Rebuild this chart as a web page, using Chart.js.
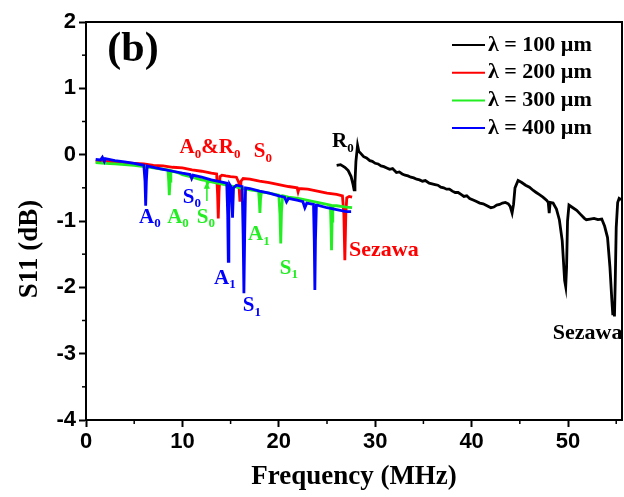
<!DOCTYPE html>
<html><head><meta charset="utf-8">
<script src="https://cdn.jsdelivr.net/npm/chart.js@4.4.0/dist/chart.umd.min.js"></script>
<style>html,body{margin:0;padding:0;background:#fff}#wrap{width:624px;height:497px;position:relative}</style>
</head><body><div id="wrap"><canvas id="c"></canvas></div>
<script>
// ---- data ----
const seriesLabels = ['λ = 100 µm', 'λ = 200 µm', 'λ = 300 µm', 'λ = 400 µm'];
const seriesColors = ['#000000', '#ff0000', '#22ee22', '#0000ff'];

const freq100 = [26.0,26.4,26.85,27.2,27.5,27.7,27.81,27.9,28.0,28.17,28.3,28.5,28.8,29.1,29.44,29.7,30.0,30.3,30.6,30.9,31.2,31.5,31.8,32.2,32.5,32.8,33.1,33.4,33.7,34.0,34.3,34.6,34.9,35.2,35.6,35.9,36.2,36.5,36.8,37.1,37.4,37.7,38.0,38.3,38.6,38.9,39.2,39.5,39.8,40.1,40.4,40.85,41.2,41.6,42.0,42.3,42.6,42.9,43.2,43.5,43.8,44.0,44.2,44.35,44.5,44.82,45.2,45.6,46.0,46.4,46.7,47.0,47.4,47.8,47.95,48.05,48.15,48.45,48.8,49.1,49.4,49.65,49.76,49.85,49.95,50.1,50.5,50.9,51.3,51.7,51.9,52.3,52.7,53.1,53.5,53.8,54.1,54.35,54.55,54.65,54.75,54.82,54.9,55.0,55.15,55.3,55.5];
const s11_100 = [-0.16,-0.15,-0.19,-0.24,-0.33,-0.45,-0.53,-0.42,-0.1,0.14,0.05,0.02,-0.03,-0.05,-0.09,-0.1,-0.13,-0.14,-0.17,-0.18,-0.2,-0.22,-0.21,-0.27,-0.26,-0.29,-0.31,-0.32,-0.34,-0.35,-0.37,-0.38,-0.4,-0.39,-0.43,-0.44,-0.45,-0.46,-0.49,-0.5,-0.52,-0.52,-0.55,-0.57,-0.57,-0.6,-0.63,-0.62,-0.66,-0.68,-0.7,-0.73,-0.74,-0.77,-0.8,-0.79,-0.76,-0.75,-0.73,-0.72,-0.74,-0.78,-0.88,-0.75,-0.5,-0.39,-0.42,-0.46,-0.49,-0.54,-0.57,-0.6,-0.64,-0.69,-0.72,-0.88,-0.72,-0.73,-0.82,-0.98,-1.3,-1.9,-1.99,-1.7,-1.0,-0.76,-0.8,-0.84,-0.9,-0.96,-0.98,-0.97,-0.96,-0.98,-0.97,-1.08,-1.25,-1.7,-2.2,-2.42,-2.3,-2.44,-1.9,-1.1,-0.72,-0.66,-0.68];

const freq200 = [1.0,2.0,3.0,4.0,5.0,6.0,7.0,8.0,9.0,10.0,11.0,12.0,13.0,13.55,13.65,13.72,13.8,13.9,14.1,14.5,15.0,15.6,15.85,15.97,16.08,16.3,17.0,18.0,19.0,20.0,21.0,21.9,22.0,22.1,23.0,24.0,25.0,26.0,26.6,26.75,26.85,26.95,27.05,27.3,27.6];
const s11_200 = [-0.1,-0.1,-0.11,-0.12,-0.13,-0.14,-0.16,-0.17,-0.19,-0.2,-0.23,-0.25,-0.28,-0.29,-0.6,-0.96,-0.55,-0.33,-0.31,-0.32,-0.33,-0.34,-0.42,-0.71,-0.4,-0.36,-0.37,-0.4,-0.42,-0.45,-0.48,-0.5,-0.56,-0.51,-0.52,-0.55,-0.58,-0.6,-0.62,-0.9,-1.59,-0.9,-0.65,-0.63,-0.64];

const freq300 = [1.0,2.0,3.0,4.0,5.0,6.0,7.0,8.0,8.5,8.58,8.64,8.72,8.8,9.5,10.0,11.0,12.0,12.5,12.6,12.7,13.0,14.0,15.0,16.0,17.0,17.9,17.98,18.04,18.1,18.2,19.0,20.0,20.12,20.2,20.28,20.4,21.0,22.0,23.0,24.0,25.0,25.35,25.42,25.47,25.53,25.6,26.0,27.0,27.6];
const s11_300 = [-0.12,-0.13,-0.14,-0.15,-0.16,-0.18,-0.2,-0.22,-0.23,-0.4,-0.61,-0.4,-0.24,-0.27,-0.3,-0.34,-0.38,-0.39,-0.44,-0.4,-0.41,-0.44,-0.47,-0.5,-0.53,-0.55,-0.7,-0.88,-0.68,-0.56,-0.58,-0.61,-0.9,-1.34,-0.85,-0.62,-0.64,-0.66,-0.69,-0.72,-0.75,-0.76,-1.1,-1.44,-1.0,-0.77,-0.77,-0.79,-0.8];

const freq400 = [1.0,1.5,1.7,1.9,2.0,3.0,4.0,5.0,6.0,6.12,6.19,6.26,6.35,7.0,8.0,9.0,10.0,10.8,10.96,11.1,12.0,13.0,14.0,14.6,14.7,14.76,14.82,14.9,15.1,15.2,15.3,15.6,16.2,16.3,16.38,16.46,16.55,17.0,18.0,19.0,20.0,20.6,20.8,21.0,22.0,22.5,22.7,22.9,23.6,23.68,23.74,23.8,23.9,24.0,25.0,26.0,27.0,27.5];
const s11_400 = [-0.07,-0.08,-0.04,-0.1,-0.06,-0.09,-0.11,-0.13,-0.16,-0.4,-0.77,-0.4,-0.17,-0.19,-0.22,-0.25,-0.28,-0.3,-0.36,-0.31,-0.34,-0.38,-0.41,-0.43,-0.9,-1.61,-0.9,-0.45,-0.5,-0.95,-0.5,-0.46,-0.48,-1.2,-2.09,-1.2,-0.5,-0.51,-0.55,-0.58,-0.62,-0.64,-0.71,-0.66,-0.69,-0.71,-0.8,-0.73,-0.75,-1.3,-2.04,-1.3,-0.76,-0.76,-0.8,-0.83,-0.86,-0.86];

const xTicksMajor = [0, 10, 20, 30, 40, 50];
const yTicksMajor = [-4, -3, -2, -1, 0, 1, 2];

// mode labels: '_' makes the next character a subscript
const labelTexts = ['R_0','Sezawa','Sezawa','A_0&R_0','S_0','A_0','A_0','S_0','S_0','A_1','A_1','S_1','S_1','(b)'];
const labelX = [26.64,52.04,30.9,12.86,18.35,6.63,9.54,12.44,10.99,17.93,14.41,17.21,21.05,4.87];
const labelY = [0.19,-2.69,-1.44,0.10,0.04,-0.95,-0.95,-0.95,-0.65,-1.21,-1.87,-2.28,-1.71,1.58];
const labelSeries = [0,0,1,1,1,3,2,2,3,2,3,3,2,0];
// arrow marking green S0
const arrowX = 12.54, arrowFromY = -0.70, arrowToY = -0.41;

// ---- build ----
function pts(xs, ys){ return xs.map((x,i)=>({x:x, y:ys[i]})); }
const allX = [freq100, freq200, freq300, freq400];
const allY = [s11_100, s11_200, s11_300, s11_400];
const datasets = seriesLabels.map((lab,i)=>({
  label: lab,
  data: pts(allX[i], allY[i]),
  borderColor: seriesColors[i],
  backgroundColor: seriesColors[i],
  borderWidth: 2.8,
  pointRadius: 0,
  tension: 0,
  fill: false,
  order: 3 - i
}));

const SERIF = '"Liberation Serif", "Times New Roman", serif';
const SANS = '"Liberation Sans", Arial, sans-serif';

function drawRich(ctx, text, cx, cy, size, color){
  const parts = [];
  for (let i=0;i<text.length;i++){
    if (text[i]==='_' && i+1<text.length){ parts.push({t:text[i+1], sub:true}); i++; }
    else parts.push({t:text[i], sub:false});
  }
  const subSize = Math.round(size*0.62);
  let w = 0;
  parts.forEach(p=>{ ctx.font = 'bold '+(p.sub?subSize:size)+'px '+SERIF; p.w = ctx.measureText(p.t).width; w += p.w; });
  let x = cx - w/2;
  ctx.fillStyle = color; ctx.textBaseline = 'middle'; ctx.textAlign = 'left';
  parts.forEach(p=>{
    ctx.font = 'bold '+(p.sub?subSize:size)+'px '+SERIF;
    ctx.fillText(p.t, x, p.sub ? cy + size*0.3 : cy);
    x += p.w;
  });
}

const decor = {
  id: 'decor',
  afterDatasetsDraw(chart){
    const ctx = chart.ctx, xs = chart.scales.x, ys = chart.scales.y, a = chart.chartArea;
    ctx.save();
    // frame
    ctx.strokeStyle = '#000'; ctx.lineWidth = 2;
    ctx.strokeRect(a.left, a.top, a.right - a.left, a.bottom - a.top);
    // minor ticks
    ctx.lineWidth = 1.5;
    for (let v=5; v<xs.max; v+=10){ const p = xs.getPixelForValue(v); ctx.beginPath(); ctx.moveTo(p, a.bottom); ctx.lineTo(p, a.bottom+4); ctx.stroke(); }
    for (let v=-3.5; v<2; v+=1){ const p = ys.getPixelForValue(v); ctx.beginPath(); ctx.moveTo(a.left, p); ctx.lineTo(a.left-4, p); ctx.stroke(); }
    // labels
    labelTexts.forEach((t,i)=>{
      const size = t==='(b)' ? 42 : (t==='Sezawa' ? 22 : 21);
      drawRich(ctx, t, xs.getPixelForValue(labelX[i]), ys.getPixelForValue(labelY[i]), size, seriesColors[labelSeries[i]]);
    });
    // arrow
    const ax = xs.getPixelForValue(arrowX), ay1 = ys.getPixelForValue(arrowFromY), ay2 = ys.getPixelForValue(arrowToY);
    ctx.strokeStyle = seriesColors[2]; ctx.fillStyle = seriesColors[2]; ctx.lineWidth = 1.5;
    ctx.beginPath(); ctx.moveTo(ax, ay1); ctx.lineTo(ax, ay2+4); ctx.stroke();
    ctx.beginPath(); ctx.moveTo(ax, ay2); ctx.lineTo(ax-3, ay2+7); ctx.lineTo(ax+3, ay2+7); ctx.closePath(); ctx.fill();
    // legend
    chart.data.datasets.forEach((d,i)=>{
      const y = a.top + 23 + i*27.7;
      const x0 = a.right - 170;
      ctx.strokeStyle = d.borderColor; ctx.lineWidth = 2;
      ctx.beginPath(); ctx.moveTo(x0, y); ctx.lineTo(x0+33, y); ctx.stroke();
      ctx.fillStyle = '#000'; ctx.font = 'bold 22px '+SERIF; ctx.textAlign='left'; ctx.textBaseline='middle';
      ctx.fillText(d.label, x0+36, y);
    });
    // y title
    ctx.save();
    ctx.translate(30, 249); ctx.rotate(-Math.PI/2);
    ctx.fillStyle = '#000'; ctx.font = 'bold 27px '+SERIF; ctx.textAlign='center'; ctx.textBaseline='middle';
    ctx.fillText('S11 (dB)', 0, 0);
    ctx.restore();
    ctx.restore();
  }
};

new Chart(document.getElementById('c'), {
  type: 'line',
  data: { datasets },
  options: {
    responsive: true, maintainAspectRatio: false, animation: false,
    layout: { padding: { top: 22, right: 2, left: 0, bottom: 0 } },
    plugins: { legend: { display: false }, tooltip: { enabled: false } },
    scales: {
      x: {
        type: 'linear', min: 0, max: 55.6,
        afterBuildTicks: s => { s.ticks = xTicksMajor.map(v=>({value:v})); },
        afterFit: s => { s.height = 77; },
        ticks: { font: { family: SANS, weight: 'bold', size: 22 }, color: '#000', padding: 2 },
        grid: { drawOnChartArea: false, tickLength: 7, tickWidth: 2, color: '#000' },
        border: { display: true, color: '#000', width: 2 },
        title: { display: true, text: 'Frequency (MHz)', font: { family: SERIF, weight: 'bold', size: 27 }, color: '#000', padding: { top: 2, bottom: 4 } }
      },
      y: {
        type: 'linear', min: -4, max: 2,
        afterBuildTicks: s => { s.ticks = yTicksMajor.map(v=>({value:v})); },
        afterFit: s => { s.width = 86; },
        ticks: { font: { family: SANS, weight: 'bold', size: 22 }, color: '#000', padding: 3 },
        grid: { drawOnChartArea: false, tickLength: 7, tickWidth: 2, color: '#000' },
        border: { display: true, color: '#000', width: 2 }
      }
    }
  },
  plugins: [decor]
});
</script>
</body></html>
